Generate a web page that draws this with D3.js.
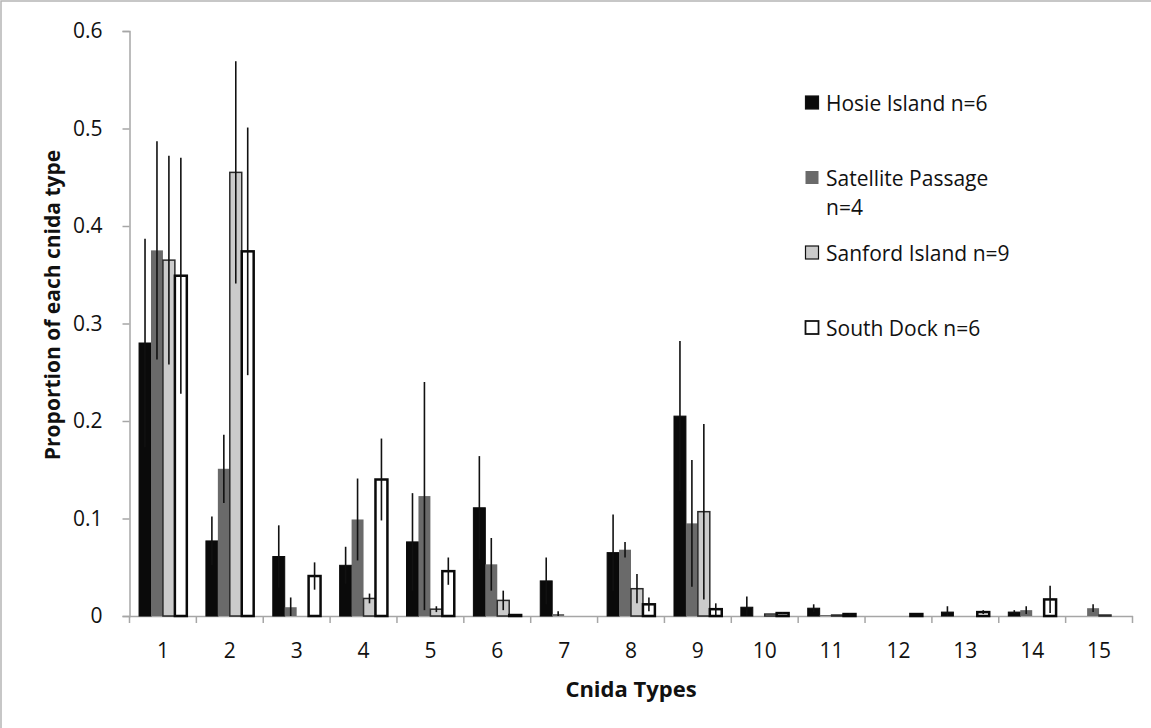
<!DOCTYPE html>
<html>
<head>
<meta charset="utf-8">
<script src="https://cdn.jsdelivr.net/npm/d3@7"></script>
<style>
  body { margin: 0; background: #fff; }
  text { font-family: "Open Sans", sans-serif; fill: #111; }
</style>
</head>
<body>
<div id="chart"></div>
<script>
// Chart data
var cnidaTypes = ["1", "2", "3", "4", "5", "6", "7", "8", "9", "10", "11", "12", "13", "14", "15"];
var siteNames = ["Hosie Island n=6", "Satellite Passage n=4", "Sanford Island n=9", "South Dock n=6"];

var hosie      = [0.280, 0.077, 0.061, 0.052, 0.076, 0.111, 0.036, 0.065, 0.205, 0.009, 0.008, 0, 0.004, 0.004, 0];
var hosieErr   = [0.107, 0.025, 0.032, 0.019, 0.050, 0.053, 0.024, 0.039, 0.077, 0.011, 0.004, 0, 0.006, 0.002, 0];
var satellite    = [0.375, 0.151, 0.009, 0.099, 0.123, 0.053, 0.002, 0.068, 0.095, 0, 0.001, 0, 0, 0.006, 0.008];
var satelliteErr = [0.112, 0.035, 0.010, 0.042, 0.117, 0.027, 0.003, 0.008, 0.065, 0, 0, 0, 0, 0.004, 0.004];
var sanford    = [0.365, 0.455, 0, 0.018, 0.007, 0.016, 0, 0.028, 0.107, 0.002, 0.001, 0, 0, 0, 0.001];
var sanfordErr = [0.107, 0.114, 0, 0.005, 0.003, 0.010, 0, 0.015, 0.090, 0, 0, 0, 0, 0, 0];
var southDock    = [0.349, 0.374, 0.041, 0.140, 0.046, 0.001, 0, 0.012, 0.007, 0.003, 0.002, 0.002, 0.004, 0.017, 0];
var southDockErr = [0.121, 0.127, 0.014, 0.042, 0.014, 0, 0, 0.007, 0.006, 0.001, 0.001, 0, 0.002, 0.014, 0];

var yTicks = [0, 0.1, 0.2, 0.3, 0.4, 0.5, 0.6];

// Series styles
var fills   = ["#0a0a0a", "#6a6a6a", "#cbcbcb", "#ffffff"];
var strokes = ["#0a0a0a", "none", "#2a2a2a", "#0a0a0a"];
var strokeW = [1, 0, 1.5, 2.5];

var values = [hosie, satellite, sanford, southDock];
var errors = [hosieErr, satelliteErr, sanfordErr, southDockErr];

// Build flat rows for binding
var rows = [];
cnidaTypes.forEach(function(c, i) {
  values.forEach(function(v, s) {
    rows.push({ cat: c, series: s, value: v[i], err: errors[s][i] });
  });
});

var svgWidth = 1151;
var svgHeight = 728;
var plot = { left: 129.5, right: 1132.5, top: 31, bottom: 616 };

var svg = d3.select("#chart")
  .append("svg")
  .attr("width", svgWidth)
  .attr("height", svgHeight);

// outer frame (only top/left edges show in the picture)
svg.append("rect")
  .attr("x", 1).attr("y", 1)
  .attr("width", svgWidth + 20).attr("height", svgHeight + 20)
  .attr("fill", "none")
  .attr("stroke", "#b5b5b5")
  .attr("stroke-width", 1.5);

// Scales
var x0 = d3.scaleBand()
  .domain(cnidaTypes)
  .range([plot.left, plot.right])
  .paddingInner(0)
  .paddingOuter(0);

var x1 = d3.scaleBand()
  .domain([0, 1, 2, 3])
  .range([0, x0.bandwidth()])
  .paddingInner(0)
  .paddingOuter(0.8);

var y = d3.scaleLinear()
  .domain([0, 0.6])
  .range([plot.bottom, plot.top]);

var axisColor = "#a6a6a6";

// Y axis
var yAxis = svg.append("g")
  .attr("transform", `translate(${plot.left}, 0)`)
  .call(d3.axisLeft(y).tickValues(yTicks).tickFormat(d3.format("")).tickSize(7).tickPadding(20));
yAxis.select(".domain").attr("stroke", axisColor).attr("stroke-width", 1.5);
yAxis.selectAll(".tick line").attr("stroke", axisColor).attr("stroke-width", 1.5);
yAxis.selectAll(".tick text")
  .style("font-size", "21px")
  .attr("fill", "#111");

// X axis (labels at centres, ticks at category edges)
var xAxis = svg.append("g")
  .attr("transform", `translate(0, ${plot.bottom})`)
  .call(d3.axisBottom(x0).tickSize(0).tickPadding(27));
xAxis.select(".domain").attr("stroke", axisColor).attr("stroke-width", 1.5);
xAxis.selectAll(".tick text")
  .style("font-size", "21px")
  .attr("fill", "#111");

var edges = cnidaTypes.map(function(c) { return x0(c); }).concat([x0(cnidaTypes[cnidaTypes.length - 1]) + x0.bandwidth()]);
xAxis.selectAll(".edge")
  .data(edges)
  .enter()
  .append("line")
  .attr("x1", d => d).attr("x2", d => d)
  .attr("y1", 0).attr("y2", 7)
  .attr("stroke", axisColor)
  .attr("stroke-width", 1.5);

// Bars
var bars = rows.filter(d => d.value > 0);
svg.append("g")
  .selectAll("rect")
  .data(bars)
  .enter()
  .append("rect")
  .attr("x", d => x0(d.cat) + x1(d.series))
  .attr("y", d => y(d.value))
  .attr("width", x1.bandwidth())
  .attr("height", d => y(0) - y(d.value))
  .attr("fill", d => fills[d.series])
  .attr("stroke", d => strokes[d.series])
  .attr("stroke-width", d => strokeW[d.series]);

// Error bars
svg.append("g")
  .selectAll("line")
  .data(rows.filter(d => d.err > 0))
  .enter()
  .append("line")
  .attr("x1", d => x0(d.cat) + x1(d.series) + x1.bandwidth() / 2)
  .attr("x2", d => x0(d.cat) + x1(d.series) + x1.bandwidth() / 2)
  .attr("y1", d => y(Math.max(0, d.value - d.err)))
  .attr("y2", d => y(d.value + d.err))
  .attr("stroke", "#111")
  .attr("stroke-width", 1.6);

// Axis titles
svg.append("text")
  .attr("x", 631)
  .attr("y", 697)
  .attr("text-anchor", "middle")
  .style("font-size", "22px")
  .style("font-weight", "bold")
  .text("Cnida Types");

svg.append("text")
  .attr("transform", "translate(60, 305) rotate(-90)")
  .attr("text-anchor", "middle")
  .style("font-size", "21px")
  .style("font-weight", "bold")
  .text("Proportion of each cnida type");

// Legend
var legendY = [103, 178, 253, 328];
var legend = svg.append("g");
siteNames.forEach(function(name, s) {
  var g = legend.append("g").attr("transform", `translate(805, ${legendY[s]})`);
  g.append("rect")
    .attr("x", 0.5).attr("y", -7)
    .attr("width", 13).attr("height", 13)
    .attr("fill", fills[s])
    .attr("stroke", s === 1 ? "none" : "#111")
    .attr("stroke-width", s === 3 ? 1.8 : 1.2);
  var t = g.append("text")
    .attr("x", 21)
    .attr("y", 7.5)
    .style("font-size", "21px");
  if (s === 1) {
    t.append("tspan").attr("x", 21).text("Satellite Passage");
    t.append("tspan").attr("x", 21).attr("dy", 29).text("n=4");
  } else {
    t.text(name);
  }
});
</script>
</body>
</html>
